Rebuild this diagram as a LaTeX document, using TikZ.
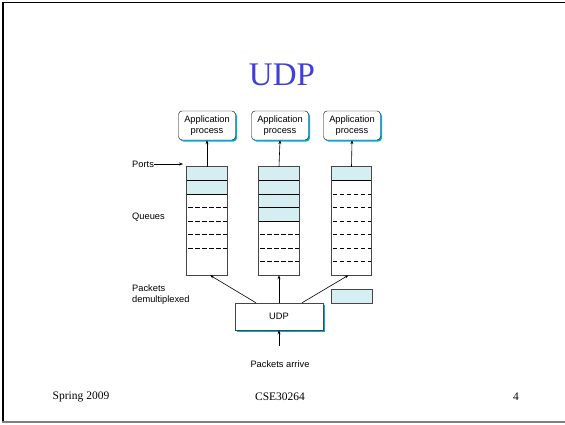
\documentclass[tikz,border=0pt]{standalone}
\usepackage{fontspec}
\setmainfont{Liberation Serif}
\newfontfamily\labelfont{Liberation Sans}
\usetikzlibrary{arrows.meta,shadows}

\definecolor{cellfill}{RGB}{213,238,242}
\definecolor{shadowcyan}{RGB}{0,176,212}
\definecolor{titleblue}{RGB}{64,64,214}
\definecolor{edgegray}{RGB}{70,70,70}

\tikzset{
  lbl/.style={font=\labelfont\fontsize{9.3}{10.5}\selectfont, inner sep=0pt},
  appbox/.style={lbl, draw=black, fill=white, rounded corners=3.5pt, align=center,
    minimum width=57pt, minimum height=29pt,
    drop shadow={fill=shadowcyan, opacity=1, shadow xshift=1.5pt, shadow yshift=-1.5pt}},
  udpbox/.style={lbl, draw=edgegray, fill=white, minimum width=88pt, minimum height=27pt,
    drop shadow={fill=shadowcyan, opacity=1, shadow xshift=1.6pt, shadow yshift=-1.6pt}},
  queue/.style={minimum width=40pt, minimum height=108pt, inner sep=0pt},
  arr/.style={draw=black, line width=0.6pt, -{Stealth[length=4pt,width=3pt]}},
}

\begin{document}
\begin{tikzpicture}[x=1pt,y=-1pt]
  \useasboundingbox (0,0) rectangle (565,424);
  % slide frame
  \draw[line width=1.6pt] (565,2.6) -- (3,2.6) -- (3,422);
  \draw[gray, line width=1.4pt] (2.3,421.8) -- (565,421.8);

  \node[font=\fontsize{33}{36}\selectfont, text=titleblue] (Title) at (282,75) {UDP};

  \node[appbox] (App1) at (207,125.5) {Application\\process};
  \node[appbox] (App2) at (280,125.5) {Application\\process};
  \node[appbox] (App3) at (352,125.5) {Application\\process};

  \node[queue] (Q1) at (207,221) {};
  \node[queue] (Q2) at (279,221) {};
  \node[queue] (Q3) at (351.5,221) {};

  % port cells and queue slots
  \foreach \q/\full/\last in {1/2/6, 2/4/7, 3/1/7} {
    \fill[cellfill] (Q\q.north west) rectangle ([yshift=-13.5*\full pt]Q\q.north east);
    \foreach \k in {1,...,\full}
      \draw[line width=0.6pt] ([yshift=-13.5*\k pt]Q\q.north west) -- ([yshift=-13.5*\k pt]Q\q.north east);
    \pgfmathtruncatemacro\first{\full+1}
    \foreach \k in {\first,...,\last}
      \draw[line width=0.6pt, dash pattern=on 4.5pt off 2.5pt]
        ([yshift=-13.5*\k pt,xshift=1.5pt]Q\q.north west) -- ([yshift=-13.5*\k pt]Q\q.north east);
    \draw[draw=edgegray, line width=0.8pt] (Q\q.north west) rectangle (Q\q.south east);
  }

  \draw[arr] (Q1.north) -- (App1.south);
  \draw[arr] (Q2.north) -- (App2.south);
  \draw[arr] (Q3.north) -- (App3.south);

  \node[lbl, anchor=west] (Ports) at (132,164) {Ports};
  \coordinate (PortTip) at (183,164);
  \draw[arr] (Ports.east) -- (PortTip);

  \node[lbl, anchor=west] (Queues) at (132,217) {Queues};
  \node[lbl, anchor=west, align=left] (Demux) at (132,294.5) {Packets\\demultiplexed};

  \node[udpbox] (UDP) at (279,316.5) {UDP};
  \node[draw=edgegray, fill=cellfill, line width=0.8pt, minimum width=41pt, minimum height=14pt, inner sep=0pt]
    (Pkt) at (351.5,296) {};

  \draw[arr] ([xshift=-23pt]UDP.north) -- ([xshift=3pt]Q1.south);
  \draw[arr] (UDP.north) -- (Q2.south);
  \draw[arr] ([xshift=23pt]UDP.north) -- ([xshift=-3pt]Q3.south);

  \node[lbl] (Arrive) at (280,364) {Packets arrive};
  \coordinate (ArriveTail) at (279,346);
  \draw[arr] (ArriveTail) -- (UDP.south);

  % footer
  \node[font=\fontsize{11.5}{13}\selectfont] (Term) at (81,397) {Spring 2009};
  \node[font=\fontsize{11.5}{13}\selectfont] (Course) at (280,397) {CSE30264};
  \node[font=\fontsize{11.5}{13}\selectfont] (Page) at (516,397) {4};
\end{tikzpicture}
\end{document}
